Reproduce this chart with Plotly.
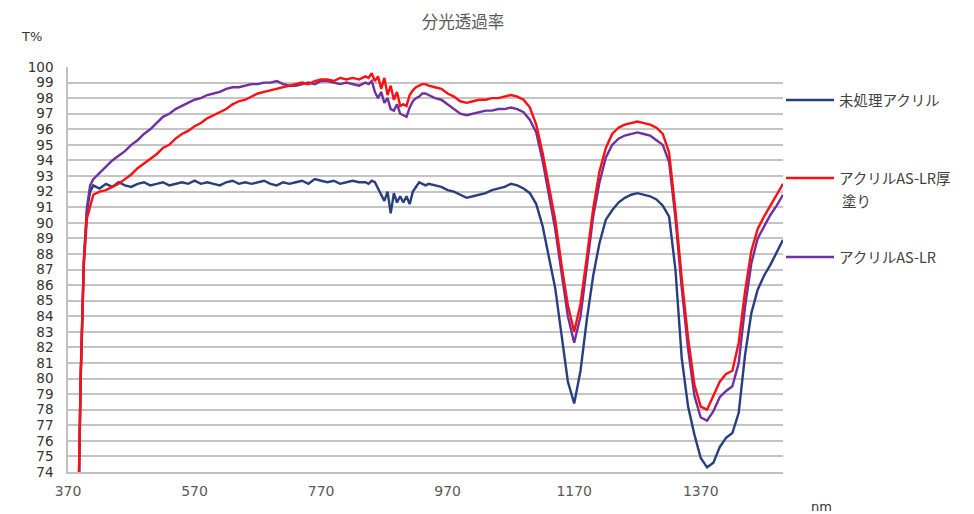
import plotly.graph_objects as go

wavelength = [380, 385, 390, 395, 400, 405,
              410, 420, 430, 440, 450, 460, 470, 480, 490, 500,
              510, 520, 530, 540, 550, 560, 570, 580, 590, 600,
              610, 620, 630, 640, 650, 660, 670, 680, 690, 700,
              710, 720, 730, 740, 750, 760, 770, 780, 790, 800,
              810, 820, 830,
              840, 845, 850, 855, 860, 865, 870, 875, 880, 885,
              890, 895, 900, 905, 910, 915, 920, 925, 930, 935,
              940, 950, 960, 970, 980, 990, 1000, 1010, 1020, 1030,
              1040, 1050, 1060, 1070, 1080, 1090, 1100, 1110, 1120, 1130,
              1140, 1150, 1160, 1170, 1180, 1190, 1200, 1210, 1220, 1230,
              1240, 1250, 1260, 1270, 1280, 1290, 1300, 1310, 1320, 1330,
              1340, 1350, 1360, 1370, 1380, 1390, 1400, 1410, 1420, 1430,
              1440, 1450, 1460, 1470, 1480, 1490, 1500]

untreated = [60.0, 68.0, 80.0, 87.5, 90.8, 92.0,
             92.4, 92.2, 92.5, 92.3, 92.6, 92.4, 92.3, 92.5, 92.6, 92.4,
             92.5, 92.6, 92.4, 92.5, 92.6, 92.5, 92.7, 92.5, 92.6, 92.5,
             92.4, 92.6, 92.7, 92.5, 92.6, 92.5, 92.6, 92.7, 92.5, 92.4,
             92.6, 92.5, 92.6, 92.7, 92.5, 92.8, 92.7, 92.6, 92.7, 92.5,
             92.6, 92.7, 92.6,
             92.6, 92.5, 92.7, 92.6, 92.2, 91.8, 91.4, 92.0, 90.6, 91.9,
             91.3, 91.7, 91.3, 91.7, 91.2, 92.0, 92.3, 92.6, 92.5, 92.4,
             92.5, 92.4, 92.3, 92.1, 92.0, 91.8, 91.6, 91.7, 91.8, 91.9,
             92.1, 92.2, 92.3, 92.5, 92.4, 92.2, 91.9, 91.2, 89.8, 87.8,
             85.8, 82.8, 79.8, 78.4, 80.5, 83.8, 86.6, 88.7, 90.2, 90.8,
             91.3, 91.6, 91.8, 91.9, 91.8, 91.7, 91.5, 91.1, 90.4, 87.0,
             81.3, 78.2, 76.4, 74.9, 74.3, 74.6, 75.6, 76.2, 76.5, 77.8,
             81.5, 84.2, 85.7, 86.6, 87.3, 88.1, 88.9]

thick_coat = [60.0, 68.0, 80.0, 87.3, 90.3, 91.0,
              91.8, 92.0, 92.1, 92.3, 92.5, 92.8, 93.1, 93.5, 93.8, 94.1,
              94.4, 94.8, 95.0, 95.4, 95.7, 95.9, 96.2, 96.4, 96.7, 96.9,
              97.1, 97.3, 97.6, 97.8, 97.9, 98.1, 98.3, 98.4, 98.5, 98.6,
              98.7, 98.8, 98.9, 99.0, 98.9, 99.1, 99.2, 99.2, 99.1, 99.3,
              99.2, 99.3, 99.2,
              99.4, 99.3, 99.6, 99.1, 99.4, 98.6, 99.3, 98.2, 98.8, 97.9,
              98.4, 97.5, 97.6, 97.5, 98.2, 98.5, 98.7, 98.8, 98.9, 98.9,
              98.8, 98.7, 98.6, 98.3, 98.1, 97.8, 97.7, 97.8, 97.9, 97.9,
              98.0, 98.0, 98.1, 98.2, 98.1, 97.9, 97.4, 96.3, 94.5, 92.3,
              90.2, 87.3, 84.7, 83.0, 84.8, 87.8, 90.9, 93.3, 94.8, 95.7,
              96.1, 96.3, 96.4, 96.5, 96.4, 96.3, 96.1, 95.7, 94.5, 90.8,
              86.4, 82.6, 79.6, 78.2, 78.0, 78.9, 79.8, 80.3, 80.5, 82.3,
              85.6, 88.2, 89.6, 90.4, 91.1, 91.8, 92.5]

as_lr = [60.0, 68.0, 80.0, 87.6, 91.0, 92.4,
         92.8, 93.2, 93.6, 94.0, 94.3, 94.6, 95.0, 95.3, 95.7, 96.0,
         96.4, 96.8, 97.0, 97.3, 97.5, 97.7, 97.9, 98.0, 98.2, 98.3,
         98.4, 98.6, 98.7, 98.7, 98.8, 98.9, 98.9, 99.0, 99.0, 99.1,
         98.9, 98.8, 98.8, 98.9, 99.0, 98.9, 99.1, 99.1, 99.0, 98.9,
         99.0, 98.9, 98.8,
         99.0, 98.9, 99.1, 98.4, 98.0, 98.4, 97.7, 98.0, 97.3, 97.2,
         97.6, 97.0, 96.9, 96.8, 97.4, 97.8, 98.0, 98.1, 98.3, 98.3,
         98.2, 98.0, 97.9, 97.6, 97.3, 97.0, 96.9, 97.0, 97.1, 97.2,
         97.2, 97.3, 97.3, 97.4, 97.3, 97.1, 96.6, 95.8, 94.0, 91.8,
         89.6, 86.8, 84.0, 82.3, 84.0, 87.2, 90.4, 92.6, 94.2, 95.0,
         95.4, 95.6, 95.7, 95.8, 95.7, 95.6, 95.3, 95.0, 93.9, 90.3,
         85.8, 81.9, 78.9, 77.5, 77.3, 77.9, 78.8, 79.2, 79.5, 81.0,
         84.6, 87.4, 89.0, 89.8, 90.5, 91.1, 91.8]

names = ["未処理アクリル", "アクリルAS-LR厚", "アクリルAS-LR"]
name_wrap = "塗り"  # second line of the thick-coat legend label
colors = ["#263F7F", "#FF1010", "#7030A0"]
x_ticks = [370, 570, 770, 970, 1170, 1370]
y_ticks = list(range(74, 101))

FONT = "Noto Sans CJK JP"
NUMFONT = "DejaVu Sans"

L, R, T, B = 68, 191, 67, 42
W = 974 - L - R
H = 514 - T - B

def py(px):
    return (514 - B - px) / H

def px_x(px):
    return (px - L) / W

fig = go.Figure()
# drawing order: navy, purple, red (red on top)
order = [0, 2, 1]
series = [untreated, thick_coat, as_lr]
legends = ["legend", "legend2", "legend3"]
for i in order:
    fig.add_trace(go.Scatter(x=wavelength, y=series[i], mode="lines", name=names[i],
                             line=dict(color=colors[i], width=2.4), legend=legends[i],
                             showlegend=True))

legend_common = dict(x=px_x(781), xanchor="left", bgcolor="rgba(0,0,0,0)",
                     font=dict(family=FONT, size=14.5, color="#404040"),
                     itemwidth=48, tracegroupgap=0, visible=True, yanchor="middle")

fig.update_layout(
    width=974, height=514,
    showlegend=True,
    margin=dict(l=L, r=R, t=T, b=B, autoexpand=False),
    paper_bgcolor="white", plot_bgcolor="white",
    title=dict(text="分光透過率", x=463 / 974, xanchor="center",
               y=1 - 22 / 514, yanchor="middle",
               font=dict(family=FONT, size=16.5, color="#595959")),
    legend=dict(**legend_common, y=py(100)),
    legend2=dict(**legend_common, y=py(178)),
    legend3=dict(**legend_common, y=py(257)),
    xaxis=dict(range=[370, 1500], tickvals=x_ticks, ticktext=[str(v) for v in x_ticks],
               showgrid=False, zeroline=False, showline=True, linecolor="#C0C0C0",
               linewidth=1.5, ticks="", ticklabelstandoff=5,
               tickfont=dict(family=NUMFONT, size=14, color="#595959")),
    yaxis=dict(range=[74, 100], tickvals=y_ticks, ticktext=[str(v) for v in y_ticks],
               showgrid=True, gridcolor="#C4C4C4", gridwidth=1.5, zeroline=False,
               showline=True, linecolor="#C0C0C0", linewidth=1.5, ticks="",
               ticklabelstandoff=10,
               tickfont=dict(family=NUMFONT, size=13.5, color="#333333")),
    annotations=[
        dict(text="T%", xref="paper", yref="paper", x=px_x(31), y=py(37),
             showarrow=False, xanchor="center", yanchor="middle",
             font=dict(family=NUMFONT, size=13, color="#333333")),
        dict(text="nm", xref="paper", yref="paper", x=px_x(821), y=py(506),
             showarrow=False, xanchor="center", yanchor="middle",
             font=dict(family=NUMFONT, size=13, color="#333333")),
        dict(text=name_wrap, xref="paper", yref="paper", x=px_x(840), y=py(200),
             showarrow=False, xanchor="left", yanchor="middle",
             font=dict(family=FONT, size=14.5, color="#404040")),
    ],
)

fig.write_html("out.html", config={"displayModeBar": False},
               post_script="document.body.style.margin='0';document.body.style.padding='0';")
